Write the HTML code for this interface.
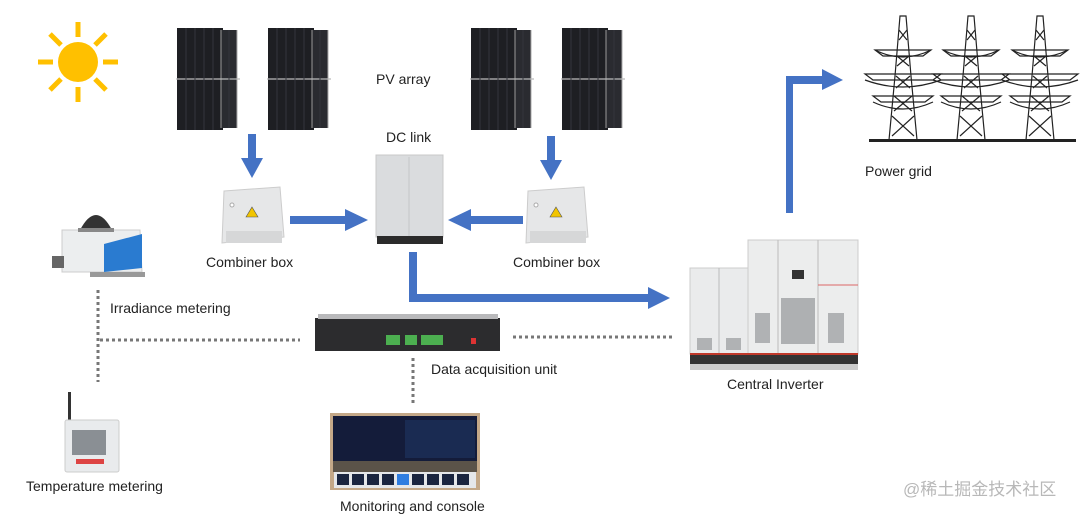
<!DOCTYPE html>
<html><head><meta charset="utf-8"><style>
body{margin:0;width:1080px;height:515px;background:#fff;overflow:hidden}
svg{display:block}
text{font-family:"Liberation Sans",sans-serif;font-size:14px;fill:#222}
</style></head><body>
<svg width="1080" height="515" viewBox="0 0 1080 515" xmlns="http://www.w3.org/2000/svg">
<defs>
<g id="panel">
<rect x="0" y="0" width="46" height="102" fill="#1e1f23"/>
<rect x="44" y="2" width="16" height="98" fill="#2a2b30"/>
<line x1="44" y1="2" x2="44" y2="100" stroke="#999" stroke-width="1"/>
<line x1="60" y1="2" x2="60" y2="100" stroke="#aaa" stroke-width="1"/>
<line x1="-1" y1="51" x2="63" y2="51" stroke="#bbb" stroke-width="1.2"/>
<g stroke="#34363c" stroke-width="1"><line x1="9" y1="0" x2="9" y2="102"/><line x1="18" y1="0" x2="18" y2="102"/><line x1="27" y1="0" x2="27" y2="102"/><line x1="36" y1="0" x2="36" y2="102"/><line x1="52" y1="2" x2="52" y2="100"/></g>
</g>
<g id="cbox">
<path d="M2 4 L58 0 L62 50 L0 56 Z" fill="#e6e7e8" stroke="#ccc"/>
<rect x="4" y="44" width="56" height="12" fill="#d6d7d8"/>
<polygon points="30,20 36,30 24,30" fill="#f2c500" stroke="#555" stroke-width=".6"/>
<circle cx="10" cy="18" r="2" fill="#fff" stroke="#aaa"/>
</g>
<g id="pylon" fill="none" stroke="#222" stroke-width="1.2">
<path d="M-3 0 L3 0 L8 60 L14 124 L-14 124 L-8 60 Z"/>
<path d="M-6 40 L6 50 M6 40 L-6 50 M-7 60 L7 72 M7 60 L-7 72 M-9 80 L9 95 M9 80 L-9 95 M-11 100 L11 120 M11 100 L-11 120 M-4 14 L4 24 M4 14 L-4 24"/>
<path d="M-28 34 L28 34 L20 40 L-20 40 Z M-38 58 L38 58 L30 64 L-30 64 Z M-30 80 L30 80 L22 86 L-22 86 Z"/>
<path d="M-28 34 Q0 48 28 34 M-38 64 Q0 78 38 64 M-30 86 Q0 100 30 86"/>
</g>
</defs>

<g fill="#FFC000"><circle cx="78" cy="62" r="20"/></g>
<g stroke="#FFC000" stroke-width="5">
<line x1="78" y1="22" x2="78" y2="37"/><line x1="78" y1="87" x2="78" y2="102"/>
<line x1="38" y1="62" x2="53" y2="62"/><line x1="103" y1="62" x2="118" y2="62"/>
<line x1="50" y1="34" x2="61" y2="45"/><line x1="95" y1="79" x2="106" y2="90"/>
<line x1="106" y1="34" x2="95" y2="45"/><line x1="61" y1="79" x2="50" y2="90"/>
</g>

<use href="#panel" x="177" y="28"/>
<use href="#panel" x="268" y="28"/>
<use href="#panel" x="471" y="28"/>
<use href="#panel" x="562" y="28"/>
<text x="376" y="84">PV array</text>
<text x="386" y="142">DC link</text>

<g fill="#4472C4">
<rect x="248" y="134" width="8" height="26"/><polygon points="241,158 263,158 252,178"/>
<rect x="547" y="136" width="8" height="26"/><polygon points="540,160 562,160 551,180"/>
<rect x="290" y="216" width="56" height="8"/><polygon points="345,209 345,231 368,220"/>
<rect x="470" y="216" width="53" height="8"/><polygon points="471,209 471,231 448,220"/>
<rect x="409" y="252" width="8" height="50"/><rect x="409" y="294" width="240" height="8"/><polygon points="648,287 648,309 670,298"/>
<rect x="786" y="77" width="7" height="136"/><rect x="786" y="76" width="38" height="8"/><polygon points="822,69 822,90 843,80"/>
</g>

<use href="#cbox" x="222" y="187"/>
<use href="#cbox" x="526" y="187"/>
<text x="206" y="267">Combiner box</text>
<text x="513" y="267">Combiner box</text>

<rect x="376" y="155" width="67" height="82" fill="#dadcde" stroke="#c8c8c8"/>
<line x1="409" y1="157" x2="409" y2="236" stroke="#c4c6c8"/>
<rect x="377" y="236" width="66" height="8" fill="#2b2b2b"/>

<g>
<rect x="690" y="268" width="58" height="86" fill="#eaebec" stroke="#ccc"/>
<line x1="719" y1="268" x2="719" y2="354" stroke="#bbb"/>
<rect x="748" y="240" width="110" height="114" fill="#eceded" stroke="#ccc"/>
<line x1="778" y1="240" x2="778" y2="354" stroke="#bbb"/>
<line x1="818" y1="240" x2="818" y2="354" stroke="#bbb"/>
<rect x="781" y="298" width="34" height="46" fill="#aeb0b2"/>
<rect x="755" y="313" width="15" height="30" fill="#b0b2b4"/>
<rect x="828" y="313" width="16" height="30" fill="#b0b2b4"/>
<rect x="697" y="338" width="15" height="12" fill="#b0b2b4"/>
<rect x="726" y="338" width="15" height="12" fill="#b0b2b4"/>
<rect x="792" y="270" width="12" height="9" fill="#333"/>
<line x1="818" y1="285" x2="858" y2="285" stroke="#d66"/>
<rect x="690" y="353" width="168" height="2" fill="#c0392b"/>
<rect x="690" y="355" width="168" height="9" fill="#333"/>
<rect x="690" y="364" width="168" height="6" fill="#ccc"/>
</g>
<text x="727" y="389">Central Inverter</text>

<use href="#pylon" x="903" y="16"/>
<use href="#pylon" x="971" y="16"/>
<use href="#pylon" x="1040" y="16"/>
<rect x="869" y="139" width="207" height="3" fill="#222"/>
<text x="865" y="176">Power grid</text>

<path d="M62 230 L140 230 L142 272 L62 272 Z" fill="#eceeef" stroke="#ccc"/>
<path d="M104 244 L142 234 L142 268 L104 272 Z" fill="#2a7bd0"/>
<path d="M80 230 Q96 200 112 230 Z" fill="#333"/>
<rect x="78" y="228" width="36" height="4" fill="#888"/>
<rect x="52" y="256" width="12" height="12" fill="#666"/>
<rect x="90" y="272" width="55" height="5" fill="#999"/>
<text x="110" y="313">Irradiance metering</text>

<g stroke="#777" stroke-width="3" stroke-dasharray="3,3" fill="none">
<line x1="98" y1="290" x2="98" y2="382"/>
<line x1="100" y1="340" x2="300" y2="340"/>
<line x1="513" y1="337" x2="672" y2="337"/>
<line x1="413" y1="358" x2="413" y2="405"/>
</g>

<rect x="315" y="318" width="185" height="33" fill="#2c2c2e"/>
<rect x="318" y="314" width="180" height="5" fill="#b9b9bb"/>
<rect x="386" y="335" width="14" height="10" fill="#4caf50"/>
<rect x="405" y="335" width="12" height="10" fill="#4caf50"/>
<rect x="421" y="335" width="22" height="10" fill="#4caf50"/>
<rect x="471" y="338" width="5" height="6" fill="#d33"/>
<text x="431" y="374">Data acquisition unit</text>

<rect x="68" y="392" width="3" height="40" fill="#333"/>
<rect x="65" y="420" width="54" height="52" rx="2" fill="#e9ebed" stroke="#ccc"/>
<rect x="72" y="430" width="34" height="25" fill="#8a8f94"/>
<rect x="76" y="459" width="28" height="5" fill="#d44"/>
<text x="26" y="491">Temperature metering</text>

<rect x="330" y="413" width="150" height="77" fill="#c4a888"/>
<rect x="333" y="416" width="144" height="45" fill="#141c3a"/>
<rect x="405" y="420" width="70" height="38" fill="#1a2b52"/>
<rect x="333" y="461" width="144" height="11" fill="#5b5349"/>
<rect x="334" y="472" width="142" height="16" fill="#e5e7ea"/>
<g fill="#1a2540">
<rect x="337" y="474" width="12" height="11"/><rect x="352" y="474" width="12" height="11"/><rect x="367" y="474" width="12" height="11"/><rect x="382" y="474" width="12" height="11"/><rect x="397" y="474" width="12" height="11" fill="#2f7de0"/><rect x="412" y="474" width="12" height="11"/><rect x="427" y="474" width="12" height="11"/><rect x="442" y="474" width="12" height="11"/><rect x="457" y="474" width="12" height="11"/>
</g>
<text x="340" y="511">Monitoring and console</text>

<text x="903" y="495" style="font-family:'Liberation Sans','Noto Sans CJK SC',sans-serif;font-size:17px;fill:#b8b8b8">@稀土掘金技术社区</text>
</svg>
</body></html>
